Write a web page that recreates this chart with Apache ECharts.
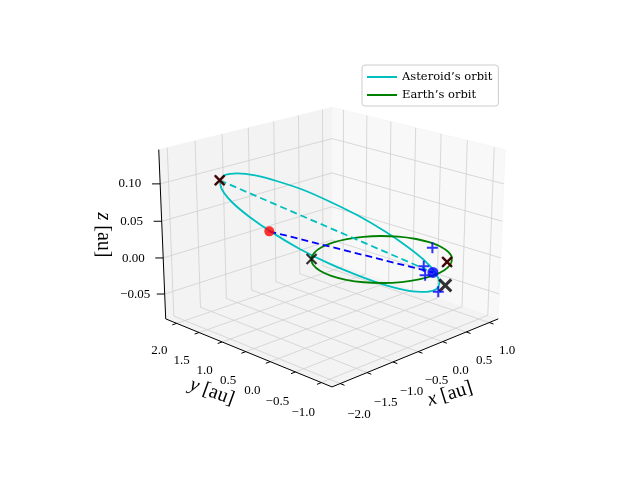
<!DOCTYPE html>
<html>
<head>
<meta charset="utf-8">
<script src="https://cdn.jsdelivr.net/npm/echarts@6/dist/echarts.min.js"></script>
<style>html,body{margin:0;background:#fff}#c{width:640px;height:480px}</style>
</head>
<body>
<div id="c"></div>
<script>
// axis limits and ticks
var xLim = [-2.15, 1.2], yLim = [-1.2, 2.25], zLim = [-0.085, 0.145];
var xTicks = [-2.0, -1.5, -1.0, -0.5, 0.0, 0.5, 1.0];
var yTicks = [-1.0, -0.5, 0.0, 0.5, 1.0, 1.5, 2.0];
var zTicks = [-0.05, 0.0, 0.05, 0.10];
var xTickLabels = ['\u22122.0', '\u22121.5', '\u22121.0', '\u22120.5', '0.0', '0.5', '1.0'];
var yTickLabels = ['\u22121.0', '\u22120.5', '0.0', '0.5', '1.0', '1.5', '2.0'];
var zTickLabels = ['\u22120.05', '0.00', '0.05', '0.10'];

// asteroid orbit (au)
var astX = [-1.93, -1.715, -1.446, -1.142, -0.824, -0.513, -0.23, 0.005, 0.176, 0.272, 0.286, 0.217, 0.07,
  -0.145, -0.414, -0.718, -1.036, -1.347, -1.63, -1.865, -2.036, -2.132, -2.146, -2.077, -1.93];
var astY = [1.22, 1.362, 1.418, 1.382, 1.259, 1.055, 0.785, 0.467, 0.123, -0.222, -0.548, -0.83, -1.05,
  -1.192, -1.248, -1.212, -1.089, -0.885, -0.615, -0.297, 0.047, 0.392, 0.718, 1.0, 1.22];
var astZ = [0.12, 0.12, 0.116, 0.108, 0.096, 0.082, 0.065, 0.048, 0.031, 0.016, 0.004, -0.005, -0.01,
  -0.01, -0.006, 0.002, 0.014, 0.029, 0.045, 0.062, 0.079, 0.094, 0.106, 0.115, 0.12];

// earth orbit (au), z = 0
var earthX = [1, 0.966, 0.866, 0.707, 0.5, 0.259, 0, -0.259, -0.5, -0.707, -0.866, -0.966, -1,
  -0.966, -0.866, -0.707, -0.5, -0.259, 0, 0.259, 0.5, 0.707, 0.866, 0.966, 1];
var earthY = [0, 0.259, 0.5, 0.707, 0.866, 0.966, 1, 0.966, 0.866, 0.707, 0.5, 0.259, 0,
  -0.259, -0.5, -0.707, -0.866, -0.966, -1, -0.966, -0.866, -0.707, -0.5, -0.259, 0];

// dashed lines
var apsides = [[-1.93, 1.22, 0.12], [0.1, -0.78, 0]];
var nodes = [[-2.05, 0.09, 0.08], [0.08, -0.915, 0]];

// markers
var earthObs = [[-0.71, 0.70, 0], [0.54, -0.765, 0], [-1.93, 1.22, 0.12]];
var earthBig = [[-0.18, -1.38, 0]];
var redCross = [[-1.93, 1.22, 0.12], [0.54, -0.765, 0]];
var bluePlus = [[0.85, -0.20, 0], [0.177, -0.651, 0], [-0.076, -0.911, 0], [-0.432, -1.481, 0]];
var redDot = [[-2.05, 0.09, 0.08]];
var blueDot = [[0.08, -0.915, 0]];

var el = 20 * Math.PI / 180, az = -135 * Math.PI / 180;
var sx = 240, sy = 225, cx = 332, cy = 236, persp = 0.15, zAspect = 0.8;
function proj(x, y, z) {
  var xn = (x - (xLim[0] + xLim[1]) / 2) / (xLim[1] - xLim[0]);
  var yn = (y - (yLim[0] + yLim[1]) / 2) / (yLim[1] - yLim[0]);
  var zn = (z - (zLim[0] + zLim[1]) / 2) / (zLim[1] - zLim[0]) * zAspect;
  var h = -xn * Math.sin(az) + yn * Math.cos(az);
  var d = xn * Math.cos(az) + yn * Math.sin(az);
  var v = zn * Math.cos(el) - d * Math.sin(el);
  var depth = d * Math.cos(el) + zn * Math.sin(el);
  var f = 1 / (1 - persp * depth);
  return [cx + sx * h * f, cy - sy * v * f];
}
function pts(list) { return list.map(function (p) { return proj(p[0], p[1], p[2]); }); }

var x0 = xLim[0], x1 = xLim[1], y0 = yLim[0], y1 = yLim[1], z0 = zLim[0], z1 = zLim[1];
var panes = [
  { pts: [[x0, y0, z0], [x1, y0, z0], [x1, y1, z0], [x0, y1, z0]], color: 'rgba(235,235,235,0.6)' },
  { pts: [[x0, y1, z0], [x1, y1, z0], [x1, y1, z1], [x0, y1, z1]], color: 'rgba(242,242,242,0.9)' },
  { pts: [[x1, y0, z0], [x1, y1, z0], [x1, y1, z1], [x1, y0, z1]], color: 'rgba(247,247,247,0.9)' }
];

var grid = [];
xTicks.forEach(function (t) {
  grid.push([[t, y0, z0], [t, y1, z0]]);
  grid.push([[t, y1, z0], [t, y1, z1]]);
});
yTicks.forEach(function (t) {
  grid.push([[x0, t, z0], [x1, t, z0]]);
  grid.push([[x1, t, z0], [x1, t, z1]]);
});
zTicks.forEach(function (t) {
  grid.push([[x0, y1, t], [x1, y1, t]]);
  grid.push([[x1, y0, t], [x1, y1, t]]);
});

var axes = [
  [[x0, y0, z0], [x1, y0, z0]],
  [[x0, y0, z0], [x0, y1, z0]],
  [[x0, y1, z0], [x0, y1, z1]]
];
xTicks.forEach(function (t) { axes.push([[t, y0, z0], [t, y0 - 0.08, z0]]); });
yTicks.forEach(function (t) { axes.push([[x0, t, z0], [x0 - 0.08, t, z0]]); });
zTicks.forEach(function (t) { axes.push([[x0, y1, t], [x0 - 0.08, y1 + 0.08, t]]); });

var labels = [];
var lf = { fontFamily: 'Liberation Serif', fontSize: 13, fill: '#000' };
xTicks.forEach(function (t, i) { labels.push({ p: proj(t, y0 - 0.35, z0 - 0.03), s: xTickLabels[i], f: lf }); });
yTicks.forEach(function (t, i) { labels.push({ p: proj(x0 - 0.33, t, z0 - 0.03), s: yTickLabels[i], f: lf }); });
zTicks.forEach(function (t, i) { labels.push({ p: proj(x0 - 0.3, y1 + 0.3, t), s: zTickLabels[i], f: lf }); });
var big = { fontFamily: 'Liberation Serif', fontSize: 20, fill: '#000' };
labels.push({ p: [450, 394], s: '{i|x} [au]', f: big, r: 0.3 });
labels.push({ p: [212, 392], s: '{i|y} [au]', f: big, r: -0.35 });
labels.push({ p: [103, 235], s: '{i|z} [au]', f: big, r: -Math.PI / 2 });

function segSeries(data, color, width) {
  return {
    type: 'custom', silent: true, z: 1,
    data: data.map(function (s) { var a = proj.apply(null, s[0]), b = proj.apply(null, s[1]); return [a[0], a[1], b[0], b[1]]; }),
    renderItem: function (params, api) {
      var a = api.coord([api.value(0), api.value(1)]), b = api.coord([api.value(2), api.value(3)]);
      return { type: 'line', shape: { x1: a[0], y1: a[1], x2: b[0], y2: b[1] }, style: { stroke: color, lineWidth: width } };
    }
  };
}
function curve(name, xs, ys, zs, color) {
  var data = xs.map(function (x, i) { return proj(x, ys[i], zs ? zs[i] : 0); });
  return {
    name: name, type: 'line', data: data, showSymbol: false, smooth: 0.3, z: 3,
    lineStyle: { color: color, width: 1.8 }, itemStyle: { color: color }
  };
}
function dashLine(p, color) {
  return { type: 'line', data: pts(p), showSymbol: false, z: 3, lineStyle: { color: color, width: 1.8, type: [7, 4] } };
}
var crossPath = 'path://M0,0L10,10M10,0L0,10';
var plusPath = 'path://M5,0L5,10M0,5L10,5';
function markers(p, sym, size, color, width, filled) {
  return {
    type: 'scatter', data: pts(p), symbol: sym, symbolSize: size, z: 4,
    itemStyle: filled ? { color: color } : { color: 'none', borderColor: color, borderWidth: width }
  };
}

var chart = echarts.init(document.getElementById('c'));
chart.setOption({
  animation: false,
  grid: { left: 0, right: 0, top: 0, bottom: 0 },
  xAxis: { type: 'value', min: 0, max: 640, show: false },
  yAxis: { type: 'value', min: 0, max: 480, inverse: true, show: false },
  legend: {
    left: 362, top: 65, orient: 'vertical', itemWidth: 30, itemHeight: 2, itemGap: 6,
    padding: [6, 6, 5, 5], borderColor: '#ccc', borderWidth: 1, borderRadius: 3, backgroundColor: '#fff',
    textStyle: { fontFamily: 'DejaVu Serif', fontSize: 11.5, color: '#000' },
    data: [{ name: 'Asteroid\u2019s orbit', icon: 'rect' }, { name: 'Earth\u2019s orbit', icon: 'rect' }]
  },
  series: [
    {
      type: 'custom', silent: true, z: 0,
      data: panes.map(function (p, i) { return [i]; }),
      renderItem: function (params, api) {
        var pane = panes[params.dataIndex];
        return {
          type: 'polygon',
          shape: { points: pane.pts.map(function (q) { var s = proj(q[0], q[1], q[2]); return api.coord(s); }) },
          style: { fill: pane.color, stroke: 'rgba(240,240,240,1)', lineWidth: 0.5 }
        };
      }
    },
    segSeries(grid, '#cfcfcf', 0.8),
    segSeries(axes, '#000', 1),
    curve('Asteroid\u2019s orbit', astX, astY, astZ, '#00bfbf'),
    curve('Earth\u2019s orbit', earthX, earthY, null, '#008000'),
    dashLine(apsides, '#00bfbf'),
    dashLine(nodes, '#0000ff'),
    markers(redCross, crossPath, 9, '#ff0000', 2.5),
    markers(earthObs, crossPath, 10, '#000', 2.2),
    markers(earthBig, crossPath, 12, '#000', 3),
    markers(bluePlus, plusPath, 11, '#0000ff', 2),
    markers(redDot, 'circle', 10, '#ff0000', 0, true),
    markers(blueDot, 'circle', 11, '#0000ff', 0, true),
    {
      type: 'custom', silent: true, z: 5,
      data: labels.map(function (l, i) { return [i]; }),
      renderItem: function (params, api) {
        var l = labels[params.dataIndex];
        var p = api.coord(l.p);
        return {
          type: 'text', x: p[0], y: p[1], rotation: l.r || 0,
          style: {
            text: l.s, fontFamily: l.f.fontFamily, fontSize: l.f.fontSize, fill: l.f.fill,
            align: 'center', verticalAlign: 'middle',
            rich: { i: { fontStyle: 'italic', fontFamily: l.f.fontFamily, fontSize: l.f.fontSize } }
          }
        };
      }
    }
  ]
});
</script>
</body>
</html>
